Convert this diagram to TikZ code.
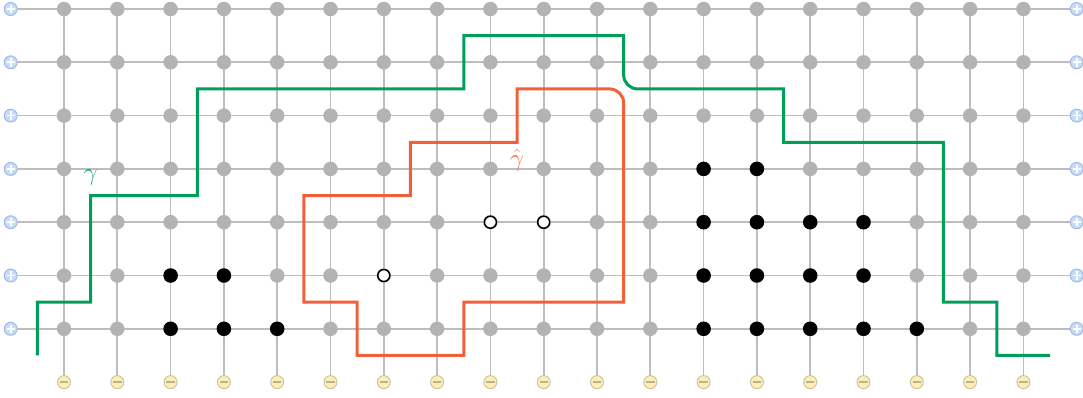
\documentclass[tikz,border=0pt]{standalone}
\usetikzlibrary{calc,backgrounds}
\definecolor{gridline}{HTML}{BDBDBD}
\definecolor{gridnode}{HTML}{B3B3B3}
\definecolor{pathgreen}{HTML}{009E5A}
\definecolor{pathorange}{HTML}{F2603A}
\definecolor{plusfill}{HTML}{C8DCF8}
\definecolor{plusdraw}{HTML}{9CB8E2}
\definecolor{minusfill}{HTML}{FBEFB6}
\definecolor{minusdraw}{HTML}{CDBF96}
\definecolor{minusbar}{HTML}{BDB28E}
\tikzset{
  gnode/.style={circle,fill=gridnode,inner sep=0pt,minimum size=14.5pt},
  bnode/.style={circle,fill=black,inner sep=0pt,minimum size=14.5pt},
  wnode/.style={circle,fill=white,draw=black,line width=1.5pt,inner sep=0pt,minimum size=12pt},
  plusnode/.style={circle,fill=plusfill,draw=plusdraw,line width=0.9pt,inner sep=0pt,minimum size=13pt,
    path picture={\draw[white,line width=1.7pt] ([xshift=-4.2pt]path picture bounding box.center) -- ([xshift=4.2pt]path picture bounding box.center)
      ([yshift=-4.2pt]path picture bounding box.center) -- ([yshift=4.2pt]path picture bounding box.center);}},
  minusnode/.style={circle,fill=minusfill,draw=minusdraw,line width=0.9pt,inner sep=0pt,minimum size=13pt,
    path picture={\draw[minusbar,line width=1.7pt] ([xshift=-4.2pt]path picture bounding box.center) -- ([xshift=4.2pt]path picture bounding box.center);}},
  edge line/.style={gridline,line width=1.7pt},
  gpath/.style={pathgreen,line width=3pt},
  opath/.style={pathorange,line width=3pt},
}
\begin{document}
\begin{tikzpicture}[x=53.3pt,y=-53.3pt]
\useasboundingbox (-0.2008,-0.1689) rectangle (20.118,7.2795);
% nodes
\foreach \j in {0,...,6}{
  \node[plusnode] (pL-\j) at (0,\j) {};
  \node[plusnode] (pR-\j) at (20,\j) {};
  \foreach \i in {1,...,19}{
    \node[gnode] (g-\i-\j) at (\i,\j) {};
  }
}
\foreach \i in {1,...,19}{
  \node[minusnode] (m-\i) at (\i,7) {};
}
% black nodes
\foreach \i/\j in {3/5,4/5,3/6,4/6,5/6,13/3,14/3,13/4,14/4,15/4,16/4,13/5,14/5,15/5,16/5,13/6,14/6,15/6,16/6,17/6}{
  \node[bnode] at (g-\i-\j) {};
}
% hollow nodes
\foreach \i/\j in {9/4,10/4,7/5}{
  \node[wnode] at (g-\i-\j) {};
}
% edges
\begin{pgfonlayer}{background}
\foreach \j in {0,...,6}{
  \draw[edge line] (pL-\j.center) -- (g-1-\j.center);
  \draw[edge line] (g-19-\j.center) -- (pR-\j.center);
  \foreach \i [evaluate=\i as \k using int(\i+1)] in {1,...,18}{
    \draw[edge line] (g-\i-\j.center) -- (g-\k-\j.center);
  }
}
\foreach \i in {1,...,19}{
  \foreach \j [evaluate=\j as \k using int(\j+1)] in {0,...,5}{
    \draw[edge line] (g-\i-\j.center) -- (g-\i-\k.center);
  }
  \draw[edge line] (g-\i-6.center) -- (m-\i.center);
}
\end{pgfonlayer}
% gamma path
\draw[gpath] (0.5,6.5) -- (0.5,5.5) -- (1.5,5.5) -- (1.5,3.5) -- (3.5,3.5) -- (3.5,1.5) -- (8.5,1.5) -- (8.5,0.5) -- (11.5,0.5)
  -- ($(11.5,1.5)+(0,14pt)$) .. controls +(0,-7.7pt) and +(-7.7pt,0) .. ($(11.5,1.5)+(14pt,0)$)
  -- (14.5,1.5) -- (14.5,2.5) -- (17.5,2.5) -- (17.5,5.5) -- (18.5,5.5) -- (18.5,6.5) -- (19.5,6.5);
% gamma-hat path
\draw[opath,line join=miter] (9.5,2.5) -- (9.5,1.5) -- ($(11.5,1.5)+(-14pt,0)$) .. controls +(7.7pt,0) and +(0,7.7pt) .. ($(11.5,1.5)+(0,-14pt)$)
  -- (11.5,5.5) -- (8.5,5.5) -- (8.5,6.5) -- (6.5,6.5) -- (6.5,5.5) -- (5.5,5.5) -- (5.5,3.5) -- (7.5,3.5) -- (7.5,2.5) -- cycle;
% labels
\node[text=pathgreen!90!white,font=\fontsize{24}{28}\selectfont] (lg) at (1.5,3.17) {$\gamma$};
\node[text=pathorange!90!white,font=\fontsize{24}{28}\selectfont] (lo) at (9.5,2.84) {$\hat{\gamma}$};
\end{tikzpicture}
\end{document}
